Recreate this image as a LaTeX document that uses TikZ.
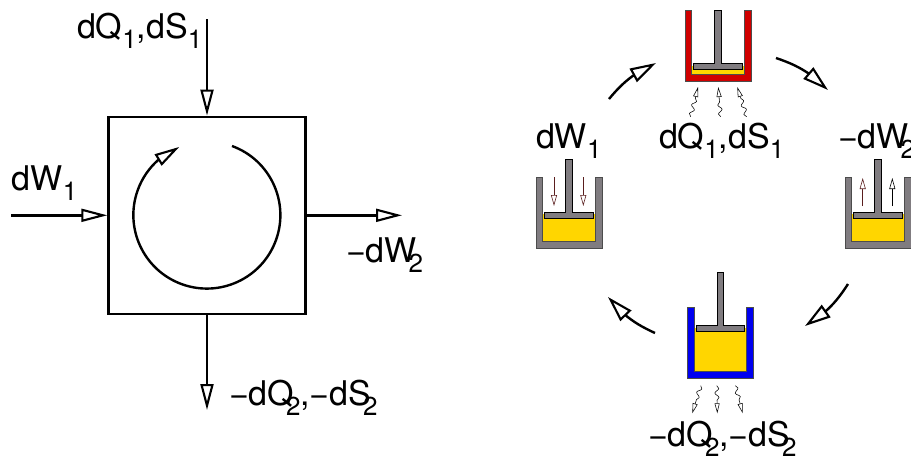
\documentclass[tikz,border=0pt]{standalone}
\usepackage{fontspec}
\setmainfont{TeX Gyre Heros}
\usetikzlibrary{arrows.meta,bending,decorations.pathmorphing}
\definecolor{wallgray}{RGB}{128,124,128}
\definecolor{gasyellow}{RGB}{255,214,0}
\definecolor{hotred}{RGB}{208,0,0}
\definecolor{coldblue}{RGB}{0,0,240}
\definecolor{maroon}{RGB}{90,30,30}
\newcommand{\subA}[1]{\raisebox{-10pt}{\fontsize{26}{26}\selectfont #1}}
\newcommand{\subB}[1]{\kern-0.24em\raisebox{-10pt}{\fontsize{26}{26}\selectfont #1}}
\tikzset{
  lbl/.style={anchor=base west,inner sep=0pt,outer sep=0pt,font=\fontsize{34}{34}\selectfont},
  bigarrow/.style={line width=2.4pt,-{Triangle[fill=white,length=26pt,width=13pt,line width=2.1pt]}},
  arcarrow/.style={line width=2.4pt,-{Triangle[fill=white,length=26pt,width=15pt,line width=2.1pt,flex=1]}},
  wall/.style={draw=black!70,line width=0.5pt,line join=miter},
  part/.style={draw=black,fill=wallgray,line width=0.9pt},
  gas/.style={fill=gasyellow,draw=none},
  workarrow/.style={line width=0.8pt,-{Triangle[fill=white,length=11pt,width=6pt,line width=0.6pt]}},
  heatarrow/.style={line width=0.55pt,-{Triangle[fill=white,length=10pt,width=5pt,line width=0.55pt]},
    decorate,decoration={snake,segment length=9pt,amplitude=2pt,post=lineto,post length=11pt}}
}
% \cyl{x outer left}{x outer right}{top}{bottom}{rod top}{plate top}{gas top}{colour}
\newcommand{\cyl}[8]{%
  \fill[gas] (#1+6.5,#7) rectangle (#2-6.5,#4-6.5);
  \draw[wall,fill=#8] (#1,#3) -- (#1+6.5,#3) -- (#1+6.5,#4-6.5) -- (#2-6.5,#4-6.5) -- (#2-6.5,#3) -- (#2,#3) -- (#2,#4) -- (#1,#4) -- cycle;
  \draw[part] ({(#1+#2)/2-3.2},#5) -- ({(#1+#2)/2+3.2},#5) -- ({(#1+#2)/2+3.2},#6) -- (#2-8.5,#6) -- (#2-8.5,#6+6) -- (#1+8.5,#6+6) -- (#1+8.5,#6) -- ({(#1+#2)/2-3.2},#6) -- cycle;
}
\begin{document}
\begin{tikzpicture}[x=1pt,y=-1pt]
\useasboundingbox (0,0) rectangle (911,456);
% left block
\node[draw,line width=2.4pt,minimum width=197pt,minimum height=197pt,inner sep=0pt] (box) at (207,215.3) {};
\coordinate (topin) at (207,19);
\coordinate (leftin) at (11,215.3);
\coordinate (rightout) at (402,215.3);
\coordinate (botout) at (207,410);
\draw[bigarrow] (topin) -- (box.north);
\draw[bigarrow] (leftin) -- (box.west);
\draw[bigarrow] (box.east) -- (rightout);
\draw[bigarrow] (box.south) -- (botout);
\draw[line width=2.4pt,-{Triangle[fill=white,length=25pt,width=13pt,line width=2.1pt,flex=1]}] (232,146) arc[start angle=-70,end angle=248,radius=73.5];
\node[lbl] (l1) at (77,38) {dQ\subA{1},dS\subA{1}};
\node[lbl] (l2) at (12,190) {dW\subA{1}};
\node[lbl] (l3) at (346,262) {−dW\subB{2}};
\node[lbl] (l4) at (229,405) {−dQ\subB{2},−dS\subB{2}};
% right block
\cyl{685}{751}{10}{81}{10}{63.3}{66}{hotred}
\cyl{536}{602}{177}{248}{159}{212.3}{214}{wallgray}
\cyl{845}{911}{177}{248}{159}{212.3}{214}{wallgray}
\cyl{687.7}{753}{307}{378}{272}{325}{328}{coldblue}
% cycle arcs
\coordinate (a1) at (609,99);  \coordinate (a2) at (656,63);
\coordinate (b1) at (776,58);  \coordinate (b2) at (828,90);
\coordinate (c1) at (848,284); \coordinate (c2) at (805,326);
\coordinate (d1) at (655,333); \coordinate (d2) at (608,297);
\draw[arcarrow] (a1) to[bend left=13] (a2);
\draw[arcarrow] (b1) to[bend left=13] (b2);
\draw[arcarrow] (c1) to[bend left=13] (c2);
\draw[arcarrow] (d1) to[bend left=13] (d2);
% work arrows
\coordinate (w1) at (554,177); \coordinate (w2) at (554,206);
\coordinate (w3) at (583.3,177); \coordinate (w4) at (583.3,206);
\coordinate (w5) at (862.7,206); \coordinate (w6) at (862.7,178);
\coordinate (w7) at (892.3,206); \coordinate (w8) at (892.3,178);
\draw[workarrow,draw=maroon] (w1) -- (w2);
\draw[workarrow,draw=maroon] (w3) -- (w4);
\draw[workarrow,draw=maroon] (w5) -- (w6);
\draw[workarrow] (w7) -- (w8);
% heat arrows
\coordinate (h1) at (690.7,116.7); \coordinate (h2) at (698,87);
\coordinate (h3) at (720.7,116.7); \coordinate (h4) at (718.3,87);
\coordinate (h5) at (746.7,116.7); \coordinate (h6) at (737.3,87);
\coordinate (h7) at (700.7,385.7); \coordinate (h8) at (692.3,413.3);
\coordinate (h9) at (716.7,385.7); \coordinate (h10) at (717.3,413.3);
\coordinate (h11) at (735.3,385.7); \coordinate (h12) at (742.7,413.3);
\draw[heatarrow] (h1) -- (h2);
\draw[heatarrow] (h3) -- (h4);
\draw[heatarrow] (h5) -- (h6);
\draw[heatarrow] (h7) -- (h8);
\draw[heatarrow] (h9) -- (h10);
\draw[heatarrow] (h11) -- (h12);
% right labels
\node[lbl] (r1) at (536,148) {dW\subA{1}};
\node[lbl] (r2) at (659,148) {dQ\subA{1},dS\subA{1}};
\node[lbl] (r3) at (838,148) {−dW\subB{2}};
\node[lbl] (r4) at (648,446) {−dQ\subB{2},−dS\subB{2}};
\end{tikzpicture}
\end{document}
